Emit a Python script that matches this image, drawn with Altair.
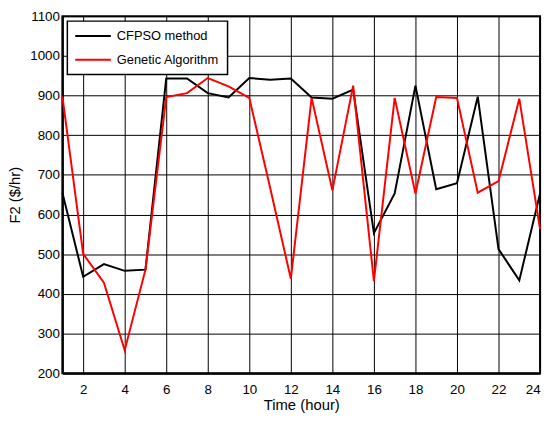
import altair as alt
import pandas as pd

hours = list(range(1, 25))
cfpso = [655, 443, 475, 458, 461, 943, 943, 906, 895, 944, 940, 943,
         895, 892, 915, 553, 653, 925, 664, 679, 897, 513, 434, 653]
ga = [898, 501, 428, 258, 461, 896, 906, 944, 923, 894, 668, 438,
      894, 661, 925, 432, 894, 653, 896, 894, 655, 684, 892, 563]
series_names = ["CFPSO method", "Genetic Algorithm"]
series_colors = ["#000000", "#ff0000"]
x_ticks = list(range(2, 25, 2))
y_ticks = list(range(200, 1101, 100))

df = pd.DataFrame({
    "hour": hours * 2,
    "value": cfpso + ga,
    "series": [series_names[0]] * len(hours) + [series_names[1]] * len(hours),
})

FONT = "Liberation Sans, Arial, sans-serif"

x = alt.X("hour:Q",
          scale=alt.Scale(domain=[1, 24], nice=False, zero=False),
          axis=alt.Axis(values=x_ticks, title="Time (hour)", titlePadding=1,
                        labelPadding=10, format="d"))
y = alt.Y("value:Q",
          scale=alt.Scale(domain=[200, 1100], nice=False, zero=False),
          axis=alt.Axis(values=y_ticks, title="F2 ($/hr)", titlePadding=7,
                        labelPadding=3, format="d"))
color = alt.Color("series:N",
                  scale=alt.Scale(domain=series_names, range=series_colors),
                  legend=alt.Legend(title=None))

base = alt.Chart(df)
black = base.transform_filter(alt.datum.series == series_names[0]).mark_line(
    strokeWidth=2).encode(x=x, y=y, color=color)
red = base.transform_filter(alt.datum.series == series_names[1]).mark_line(
    strokeWidth=2).encode(x=x, y=y, color=color)

chart = alt.layer(black, red).properties(
    width=483, height=361,
    autosize=alt.AutoSizeParams(type="none"),
    padding={"left": 55, "top": 6, "right": 5, "bottom": 40},
).configure_view(
    stroke="#000000", strokeWidth=2
).configure_axis(
    labelFont=FONT, titleFont=FONT, labelFontSize=13.5, titleFontSize=15,
    titleFontWeight="normal", labelColor="#000000", titleColor="#000000",
    domainColor="#000000", domainWidth=2, ticks=False,
    grid=True, gridColor="#000000", gridWidth=1, gridOpacity=1,
).configure_legend(
    orient="none", legendX=5, legendY=5,
    strokeColor="#000000", strokeWidth=1.5, fillColor="#ffffff",
    padding=8, rowPadding=10,
    symbolType="M-3,0H3", symbolSize=144, symbolStrokeWidth=2,
    symbolOffset=11,
    labelFont=FONT, labelFontSize=13, labelColor="#000000", labelOffset=17,
)

chart.save("out.html", embed_options={"renderer": "svg", "actions": False})
